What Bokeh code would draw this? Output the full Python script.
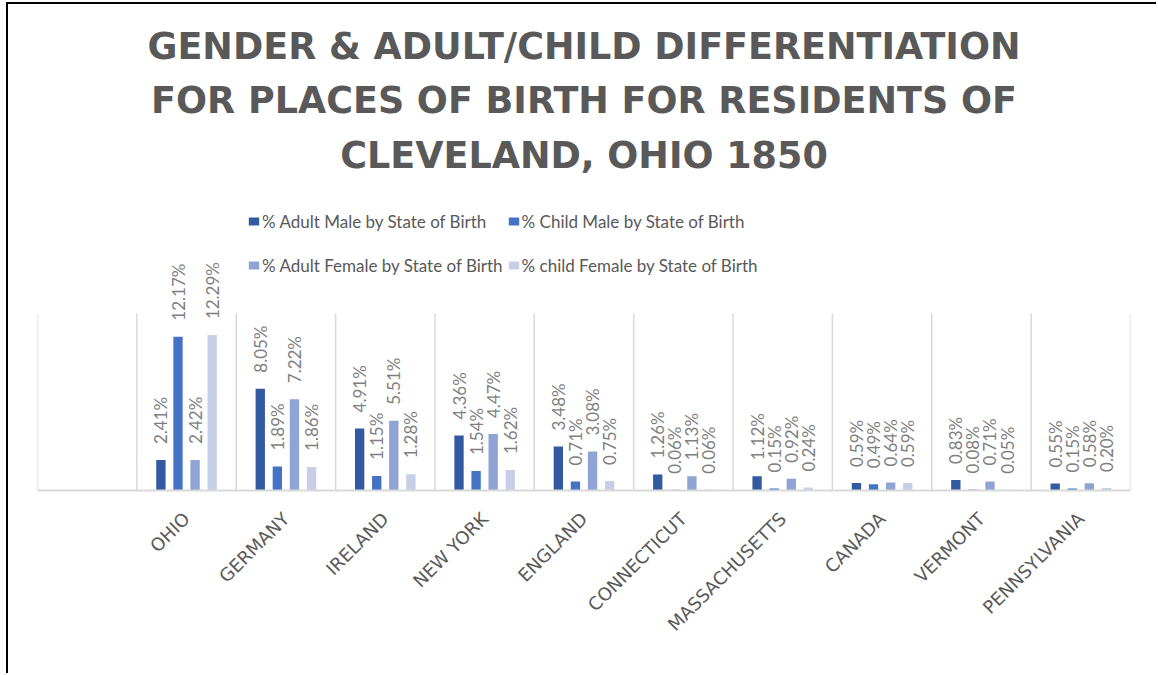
import math
import numpy as np
from bokeh.plotting import figure
from bokeh.models import (ColumnDataSource, Range1d, FixedTicker, Legend, LegendItem, Label)
from bokeh.transform import dodge
from bokeh.core.properties import value
from bokeh.embed import file_html
from bokeh.resources import INLINE

# ---------------- data ----------------
places = ["OHIO", "GERMANY", "IRELAND", "NEW YORK", "ENGLAND", "CONNECTICUT",
          "MASSACHUSETTS", "CANADA", "VERMONT", "PENNSYLVANIA"]
series_names = ["% Adult Male by State of Birth", "% Child Male by State of Birth",
                "% Adult Female by State of Birth", "% child Female by State of Birth"]
adult_male = [2.41, 8.05, 4.91, 4.36, 3.48, 1.26, 1.12, 0.59, 0.83, 0.55]
child_male = [12.17, 1.89, 1.15, 1.54, 0.71, 0.06, 0.15, 0.49, 0.08, 0.15]
adult_female = [2.42, 7.22, 5.51, 4.47, 3.08, 1.13, 0.92, 0.64, 0.71, 0.58]
child_female = [12.29, 1.86, 1.28, 1.62, 0.75, 0.06, 0.24, 0.59, 0.05, 0.20]
title_lines = ["GENDER & ADULT/CHILD DIFFERENTIATION",
               "FOR PLACES OF BIRTH FOR RESIDENTS OF",
               "CLEVELAND, OHIO 1850"]
axis_max = 14  # value axis maximum (grid lines run from 0 to this)

colors = ["#335AA1", "#4472C4", "#8FA3D5", "#C7CFE8"]
offsets = [-0.258, -0.086, 0.086, 0.258]
all_series = [adult_male, child_male, adult_female, child_female]

W, H = 1150, 671
left, right, top, bottom = 29, 28, 0, 185
frame_h = H - top - bottom     # px height of the plotting frame
axis_px = 177                  # px used by 0..axis_max
p = figure(width=W, height=H, x_range=Range1d(-1.5, len(places) - 0.5),
           y_range=Range1d(0, axis_max * frame_h / axis_px), output_backend="svg",
           toolbar_location=None, title_location=None,
           min_border_left=left, min_border_right=right, min_border_top=top,
           min_border_bottom=bottom)
p.styles = {"margin-left": "6px", "margin-top": "2px",
            "border-left": "2px solid #000", "border-top": "2px solid #000"}

# title: three centred lines (screen px measured from the frame's bottom-left)
frame_w = W - left - right
for line, yb in zip(title_lines, [444, 390.5, 335.5]):
    p.add_layout(Label(x=frame_w / 2, y=yb, x_units="screen", y_units="screen",
                       text=line, text_align="center", text_baseline="alphabetic",
                       text_font="DejaVu Sans", text_font_size="36.5px",
                       text_font_style="bold", text_color="#595959"))

p.outline_line_color = None
p.background_fill_color = "white"
p.border_fill_color = "white"

# category separators (vertical grid lines), from 0 up to axis_max
bounds = [i - 0.5 for i in range(-1, len(places) + 1)]
p.segment(x0=bounds, y0=[0] * len(bounds), x1=bounds, y1=[axis_max] * len(bounds),
          line_color="#d9d9d9", line_width=1.5)

renderers = []
for name, vals, col, off in zip(series_names, all_series, colors, offsets):
    src = ColumnDataSource(dict(x=list(range(len(places))), y=vals,
                                lab=[f"{v:.2f}%" for v in vals]))
    r = p.vbar(x=dodge("x", off), top="y", width=0.094, source=src,
               fill_color=col, line_color=None)
    p.text(x=dodge("x", off), y="y", text="lab", source=src, angle=math.pi / 2,
           text_align="left", text_baseline="middle", y_offset=-16,
           text_font=value("Lato"), text_font_size="17px", text_color="#7f7f7f")
    renderers.append(LegendItem(label=name, renderers=[r]))

# legend fills column by column: column 1 = adult series, column 2 = child series
items = [renderers[0], renderers[2], renderers[1], renderers[3]]
legend = Legend(items=items, ncols=2, location=(210, 205),
                label_text_font="Lato", label_text_font_size="17px",
                label_text_color="#595959", glyph_width=13, glyph_height=10,
                label_standoff=2, label_height=40, spacing=4, padding=0, margin=0,
                border_line_color=None, background_fill_alpha=0)
p.add_layout(legend, "center")

xa = p.xaxis[0]
xa.ticker = FixedTicker(ticks=list(range(len(places))))
xa.major_label_overrides = {i: n for i, n in enumerate(places)}
xa.major_tick_line_color = None
xa.minor_tick_line_color = None
xa.axis_line_color = "#d9d9d9"
xa.axis_line_width = 2
xa.major_label_text_font = "DejaVu Sans"
xa.major_label_text_font_size = "18px"
xa.major_label_text_color = "#595959"
xa.major_label_orientation = math.pi / 4
xa.major_label_standoff = 19
p.yaxis.visible = False
p.xgrid.visible = False
p.ygrid.visible = False

open("out.html", "w").write(file_html(p, INLINE))
